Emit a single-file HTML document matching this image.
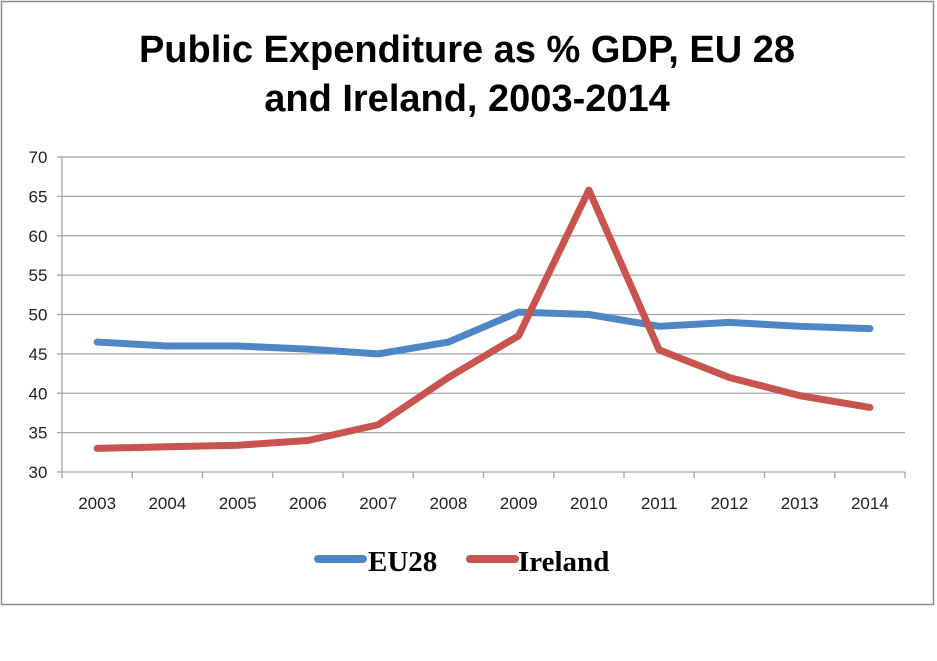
<!DOCTYPE html>
<html><head><meta charset="utf-8"><style>
body{margin:0;background:#fff;width:937px;height:661px;overflow:hidden}
svg{display:block}
</style></head><body>
<svg id="chart" width="937" height="661" font-family="'Liberation Sans', sans-serif">
<rect x="1.5" y="1.5" width="932" height="603" fill="#fff" stroke="#8c8c8c" stroke-width="1.5"/>
<text x="467" y="62" text-anchor="middle" font-size="38" font-weight="bold" fill="#000">Public Expenditure as % GDP, EU 28</text>
<text x="467" y="111" text-anchor="middle" font-size="38" font-weight="bold" fill="#000">and Ireland, 2003-2014</text>
<g id="grid"></g><g id="axes"></g><g id="series"></g>
<g>
<line x1="318" y1="559" x2="363" y2="559" stroke="#4f86c6" stroke-width="8" stroke-linecap="round"/>
<text x="368" y="571" font-size="29" font-weight="bold" font-family="'Liberation Serif', serif">EU28</text>
<line x1="470" y1="559" x2="515" y2="559" stroke="#c9534f" stroke-width="8" stroke-linecap="round"/>
<text x="518" y="571" font-size="29" font-weight="bold" font-family="'Liberation Serif', serif">Ireland</text>
</g>
</svg>
<script>
const years=["2003","2004","2005","2006","2007","2008","2009","2010","2011","2012","2013","2014"];
const eu28=[46.5,46,46,45.6,45,46.5,50.3,50,48.5,49,48.5,48.2];
const ireland=[33,33.2,33.4,34,36,42,47.3,65.8,45.5,42,39.7,38.2];
const yTicks=[30,35,40,45,50,55,60,65,70];
const NS="http://www.w3.org/2000/svg";
const L=62,R=905,T=157,B=472,ymin=30,ymax=70;
const bw=(R-L)/years.length;
function xs(i){return L+bw*(i+0.5);}
function ys(v){return B-(v-ymin)/(ymax-ymin)*(B-T);}
function mk(tag,attrs,parent){const e=document.createElementNS(NS,tag);for(const k in attrs)e.setAttribute(k,attrs[k]);parent.appendChild(e);return e;}
const grid=document.getElementById('grid'),axes=document.getElementById('axes'),ser=document.getElementById('series');
yTicks.forEach(v=>{
  if(v>ymin){const g=mk('line',{x1:L,x2:R,y1:ys(v),y2:ys(v),stroke:'#a6a6a6','stroke-width':1.3},grid);
  
  }
  const tk=mk('line',{x1:L-5,x2:L,y1:ys(v),y2:ys(v),stroke:'#a6a6a6','stroke-width':1.3},axes);
  
  
  const t=mk('text',{x:L-24,y:ys(v)+6,'text-anchor':'middle','font-size':17,fill:'#222'},axes);
  t.textContent=v;
  
  
});
const ya=mk('line',{x1:L,x2:L,y1:T,y2:B,stroke:'#a6a6a6','stroke-width':1.3},axes);


const xa=mk('line',{x1:L,x2:R,y1:B,y2:B,stroke:'#a6a6a6','stroke-width':1.3},axes);


for(let i=0;i<=years.length;i++){
  const tk=mk('line',{x1:L+bw*i,x2:L+bw*i,y1:B,y2:B+6,stroke:'#a6a6a6','stroke-width':1.3},axes);
  
  
}
years.forEach((y,i)=>{
  const t=mk('text',{x:xs(i),y:509,'text-anchor':'middle','font-size':17,fill:'#222'},axes);
  t.textContent=y;
  
  
});
function line(vals,color,name){
  const p=mk('polyline',{points:vals.map((v,i)=>xs(i)+','+ys(v)).join(' '),fill:'none',stroke:color,'stroke-width':7,'stroke-linecap':'round','stroke-linejoin':'round'},ser);
  
  
}
line(eu28,'#4f86c6','eu28-line');
line(ireland,'#c9534f','ireland-line');
</script>
</body></html>
